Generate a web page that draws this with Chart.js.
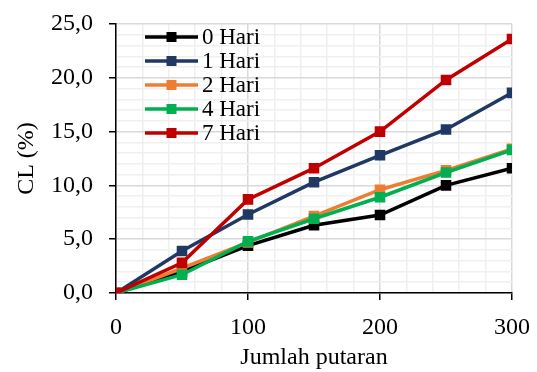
<!DOCTYPE html>
<html>
<head>
<meta charset="utf-8">
<script src="https://cdn.jsdelivr.net/npm/chart.js@4.4.1/dist/chart.umd.min.js"></script>
<style>
  html, body { margin: 0; padding: 0; background: #fff; }
  #wrap { width: 537px; height: 372px; }
</style>
</head>
<body>
<div id="wrap"><canvas id="chart-1" width="537" height="372"></canvas></div>
<script>
const putaran = [0, 50, 100, 150, 200, 250, 300];
const hari0 = [0, 2.0, 4.4, 6.3, 7.25, 10.0, 11.6];
const hari1 = [0, 3.9, 7.3, 10.3, 12.8, 15.2, 18.6];
const hari2 = [0, 2.3, 4.7, 7.15, 9.6, 11.4, 13.4];
const hari4 = [0, 1.7, 4.8, 6.9, 8.9, 11.2, 13.3];
const hari7 = [0, 2.8, 8.7, 11.6, 15.0, 19.8, 23.6];
const seriesNames = ['0 Hari', '1 Hari', '2 Hari', '4 Hari', '7 Hari'];
const seriesColours = ['#000000', '#1F3864', '#ED7D31', '#00B050', '#C00000'];
const xTicks = [0, 100, 200, 300];
const yTicks = [0, 5, 10, 15, 20, 25];

const serif = "'Liberation Serif', 'Times New Roman', serif";

function toPoints(values) {
    return putaran.map((x, i) => ({ x: x, y: values[i] }));
}

const allValues = [hari0, hari1, hari2, hari4, hari7];
const datasets = allValues.map((vals, i) => ({
    label: seriesNames[i],
    data: toPoints(vals),
    borderColor: seriesColours[i],
    backgroundColor: seriesColours[i],
    borderWidth: 3.5,
    pointStyle: 'rect',
    pointRadius: 5,
    pointHoverRadius: 5,
    order: allValues.length - i
}));

// legend inside plot area, top left
const innerLegend = {
    id: 'innerLegend',
    afterDraw(chart) {
        const ctx = chart.ctx;
        const x0 = 145;
        const x1 = 198;
        const top = chart.chartArea.top + 13;
        ctx.save();
        ctx.font = '23px ' + serif;
        ctx.textBaseline = 'middle';
        chart.data.datasets.forEach((ds, i) => {
            const y = top + i * 24;
            ctx.strokeStyle = ds.borderColor;
            ctx.lineWidth = 3.5;
            ctx.beginPath();
            ctx.moveTo(x0, y);
            ctx.lineTo(x1, y);
            ctx.stroke();
            ctx.fillStyle = ds.borderColor;
            const mx = (x0 + x1) / 2;
            ctx.fillRect(mx - 5, y - 5, 10, 10);
            ctx.fillStyle = '#000';
            ctx.fillText(ds.label, x1 + 4, y + 1);
        });
        ctx.restore();
    }
};

new Chart(document.querySelector('#chart-1'), {
    type: 'line',
    data: { datasets: datasets },
    options: {
        responsive: false,
        animation: false,
        layout: { padding: { top: 24, right: 25, left: 12, bottom: 0 } },
        plugins: { legend: { display: false }, tooltip: { enabled: false } },
        scales: {
            x: {
                type: 'linear',
                min: 0,
                max: 300,
                afterFit: s => { s.height = 79; s.paddingLeft = 0; s.paddingRight = 0; },
                ticks: {
                    stepSize: 20,
                    autoSkip: false,
                    maxRotation: 0,
                    color: '#000',
                    padding: 13,
                    font: { family: serif, size: 24 },
                    callback: v => xTicks.includes(v) ? String(v) : ''
                },
                grid: {
                    color: c => xTicks.includes(c.tick.value) ? '#D9D9D9' : '#F0F0F0',
                    lineWidth: 1.5,
                    tickColor: c => xTicks.includes(c.tick.value) ? '#000' : 'rgba(0,0,0,0)',
                    tickLength: 7
                },
                border: { color: '#000', width: 1.5 },
                title: {
                    display: true,
                    text: 'Jumlah putaran',
                    color: '#000',
                    font: { family: serif, size: 24 },
                    padding: { top: 0, bottom: 0 }
                }
            },
            y: {
                min: 0,
                max: 25,
                afterFit: s => { s.width = 104; s.paddingTop = 0; s.paddingBottom = 0; },
                ticks: {
                    stepSize: 1,
                    autoSkip: false,
                    color: '#000',
                    padding: 16,
                    font: { family: serif, size: 24 },
                    callback: v => yTicks.includes(v) ? v.toFixed(1).replace('.', ',') : ''
                },
                grid: {
                    color: c => yTicks.includes(c.tick.value) ? '#D9D9D9' : '#F0F0F0',
                    lineWidth: 1.5,
                    tickColor: c => yTicks.includes(c.tick.value) ? '#000' : 'rgba(0,0,0,0)',
                    tickLength: 7
                },
                border: { color: '#000', width: 1.5 },
                title: {
                    display: true,
                    text: 'CL (%)',
                    color: '#000',
                    font: { family: serif, size: 24 },
                    padding: { top: 0, bottom: 0 }
                }
            }
        }
    },
    plugins: [innerLegend]
});
</script>
</body>
</html>
